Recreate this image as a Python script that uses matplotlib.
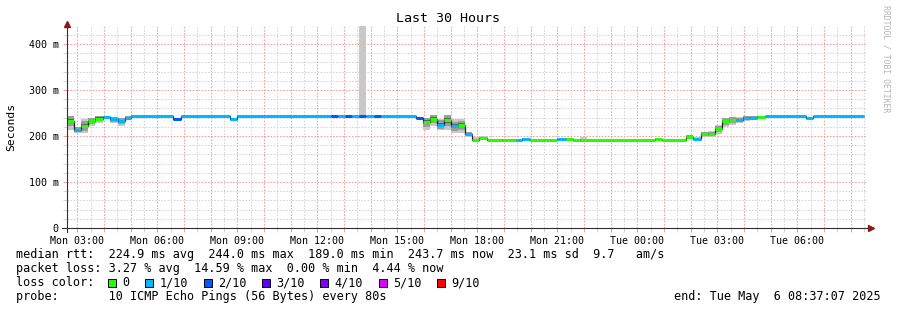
import numpy as np
import matplotlib.pyplot as plt
from matplotlib.patches import Rectangle

# Step edges in hours since Mon 00:00 (window is Mon 02:37:07 .. Tue 08:37:07)
edges = [
    2.62, 2.88, 3.14, 3.41, 3.67, 3.97, 4.23, 4.53, 4.79, 5.02,
    6.59, 6.89, 8.73, 8.99, 12.52, 12.78, 13.04, 13.31, 13.57, 13.83,
    14.13, 14.39, 15.71, 15.97, 16.23, 16.49, 16.76, 17.02, 17.28, 17.54,
    17.81, 18.07, 18.37, 18.93, 19.46, 19.68, 19.98, 20.99, 21.33, 21.59,
    21.86, 22.12, 24.67, 24.93, 25.83, 26.09, 26.39, 26.66, 26.92, 27.18,
    27.44, 27.71, 27.97, 28.23, 28.49, 28.79, 30.33, 30.59, 32.51,
]

# median rtt per step (ms)
median = [
    232, 214, 222, 232, 238, 241, 236, 233, 240,
    243.5, 237, 243.5, 237, 243.5,
    243.5, 243.5, 243.5, 243.5, 243.5, 243.5, 243.5, 243.5,
    240, 230, 237, 225, 234, 221, 223, 205,
    191, 195, 190.5, 192, 190.5, 194, 190.5, 193, 193, 190.5, 190.5, 190.5,
    193, 190.5, 198, 194, 204, 205, 215,
    232, 235, 235, 239, 240, 242, 243.5, 239, 243.5,
]

# loss class per step (index into loss_labels)
loss = [
    0, 1, 0, 0, 0, 1, 1, 1, 1,
    1, 2, 1, 1, 1,
    2, 1, 2, 1, 2, 1, 2, 1,
    2, 0, 0, 1, 0, 1, 0, 1,
    0, 0, 0, 0, 1, 1, 0, 1, 0, 0, 0, 0,
    0, 0, 0, 1, 0, 0, 0,
    0, 0, 1, 1, 1, 0, 1, 1, 1,
]

# smoke (spread of the single pings) per step, ms
smoke_lo = [
    214, 207, 206, 222, 228, 236, 229, 222, 236,
    242.5, 235, 242.5, 233, 242.5,
    242.5, 242.5, 242.5, 242.5, 242.5, 242.5, 242.5, 242.5,
    237, 212, 222, 212, 214, 207, 206, 197,
    189, 191, 189.5, 190, 189.5, 191, 189.5, 190, 191, 189.5, 189.5, 189.5,
    190, 189.5, 193, 191, 197, 198, 205,
    220, 225, 228, 232, 234, 240, 242.5, 236, 242.5,
]
smoke_hi = [
    244, 220, 236, 240, 244, 244, 242, 240, 243,
    244.5, 240, 244.5, 240, 244.5,
    244.5, 244.5, 244.5, 244.5, 470, 244.5, 244.5, 244.5,
    242, 240, 246, 238, 246, 236, 236, 209,
    198, 199, 191.5, 193.5, 191.5, 196, 191.5, 195, 195, 191.5, 198, 191.5,
    195, 191.5, 202, 197, 208, 210, 224,
    240, 242, 242, 244, 244, 244, 244.5, 242, 244.5,
]

loss_labels = ['0', '1/10', '2/10', '3/10', '4/10', '5/10', '9/10']
loss_colors = ['#26ff00', '#00b8ff', '#0059ff', '#5e00ff', '#7e00ff', '#dd00ff', '#ff0000']

t_start = 2 + 37 / 60 + 7 / 3600
t_end = t_start + 30

MONO = 'DejaVu Sans Mono'
W, H = 897, 310
fig = plt.figure(figsize=(W / 100, H / 100), dpi=100)
fig.patch.set_facecolor('white')

# plot area in pixels
X0, X1, YB, YT = 67, 867, 228, 26
ax = fig.add_axes([X0 / W, 1 - YB / H, (X1 - X0) / W, (YB - YT) / H])
ax.set_xlim(t_start, t_end)
ax.set_ylim(0, (YB - YT) / 0.46)
for s in ax.spines.values():
    s.set_visible(False)

# grid
ax.set_xticks(np.arange(3, 33, 1))
ax.set_xticks(np.arange(3, 33, 0.5), minor=True)
ax.set_yticks(np.arange(0, 401, 100))
ax.set_yticks(np.arange(0, 421, 20), minor=True)
ax.grid(which='minor', color='#d4d4d4', lw=0.75, ls=(0, (1.5, 1.5)))
ax.grid(which='major', color='#f0a0a0', lw=0.75, ls=(0, (1.5, 1.5)))
ax.set_axisbelow(True)


def tlabel(h):
    if h % 3:
        return ''
    day = 'Mon' if h < 24 else 'Tue'
    return '%s %02d:00' % (day, h % 24)


ax.set_xticklabels([tlabel(h) for h in range(3, 33)])
ax.set_yticklabels(['0' if v == 0 else '%d m' % v for v in range(0, 401, 100)])
ax.tick_params(which='major', length=3, width=0.7, color='#f0a0a0', pad=3)
ax.tick_params(which='minor', length=3, width=0.7, color='#d4d4d4')
for lab in ax.get_xticklabels() + ax.get_yticklabels():
    lab.set_fontfamily(MONO)
    lab.set_fontsize(7.2)

# smoke
e = np.array(edges)
med = np.array(median, dtype=float)
lo = np.array(smoke_lo, dtype=float)
hi = np.array(smoke_hi, dtype=float)
# a lone outlier (very wide range) only gets the light outer smoke
spread = np.where(hi - lo > 100, 0, hi - lo)
ax.stairs(hi, e, baseline=lo, fill=True, color='#c8c8c8', lw=0)
ax.stairs(np.minimum(hi, med + 0.35 * spread), e,
          baseline=np.maximum(lo, med - 0.35 * spread), fill=True, color='#9c9c9c', lw=0)
ax.stairs(np.minimum(hi, med + 0.15 * spread), e,
          baseline=np.maximum(lo, med - 0.15 * spread), fill=True, color='#606060', lw=0)

# median line, coloured by loss
ax.stairs(med, e, baseline=None, color='#202020', lw=0.9)
ax.hlines(med, e[:-1], e[1:], colors=[loss_colors[i] for i in loss],
          lw=2.2, capstyle='butt', zorder=3)

# axes with arrows
ax.plot([-5 / 800, 1.004], [0, 0], transform=ax.transAxes, clip_on=False,
        color='#303030', lw=0.8, zorder=4)
ax.plot([0, 0], [-4 / 202, 1.0], transform=ax.transAxes, clip_on=False,
        color='#303030', lw=0.8, zorder=4)
ax.plot([1.0045], [0], marker='>', ms=4, color='#8b1a1a', transform=ax.transAxes,
        clip_on=False, zorder=5)
ax.plot([0], [1.012], marker='^', ms=4, color='#8b1a1a', transform=ax.transAxes,
        clip_on=False, zorder=5)

# texts
fig.text(448 / W, 1 - 19 / H, 'Last 30 Hours', ha='center', va='center',
         family=MONO, fontsize=9.6)
fig.text(11 / W, 1 - 127 / H, 'Seconds', rotation=90, ha='center', va='center',
         family=MONO, fontsize=8.2)
fig.text(886 / W, 1 - 59 / H, 'RRDTOOL / TOBI OETIKER', rotation=-90, ha='center',
         va='center', family=MONO, fontsize=5.9, color='#b4b4b4')

CW = 7.1
lines = [
    (254.5, 'median rtt:  224.9 ms avg  244.0 ms max  189.0 ms min  243.7 ms now  23.1 ms sd  9.7   am/s'),
    (268.5, 'packet loss: 3.27 % avg  14.59 % max  0.00 % min  4.44 % now'),
    (282.5, 'loss color:'),
    (296.5, 'probe:       10 ICMP Echo Pings (56 Bytes) every 80s'),
]
for y, txt in lines:
    fig.text(16 / W, 1 - y / H, txt, ha='left', va='center', family=MONO, fontsize=8.5)

bx = 108
for lab, col in zip(loss_labels, loss_colors):
    fig.add_artist(Rectangle((bx / W, 1 - 286.5 / H), 8 / W, 8 / H, transform=fig.transFigure,
                             facecolor=col, edgecolor='black', lw=0.7))
    lx = bx + 14.5
    fig.text(lx / W, 1 - 282.5 / H, lab, ha='left', va='center', family=MONO, fontsize=8.5)
    bx = lx + len(lab) * CW + 15.5

fig.text(881 / W, 1 - 296.5 / H, 'end: Tue May  6 08:37:07 2025', ha='right', va='center',
         family=MONO, fontsize=8.5)

fig.savefig('out.png', dpi=100, facecolor='white')
